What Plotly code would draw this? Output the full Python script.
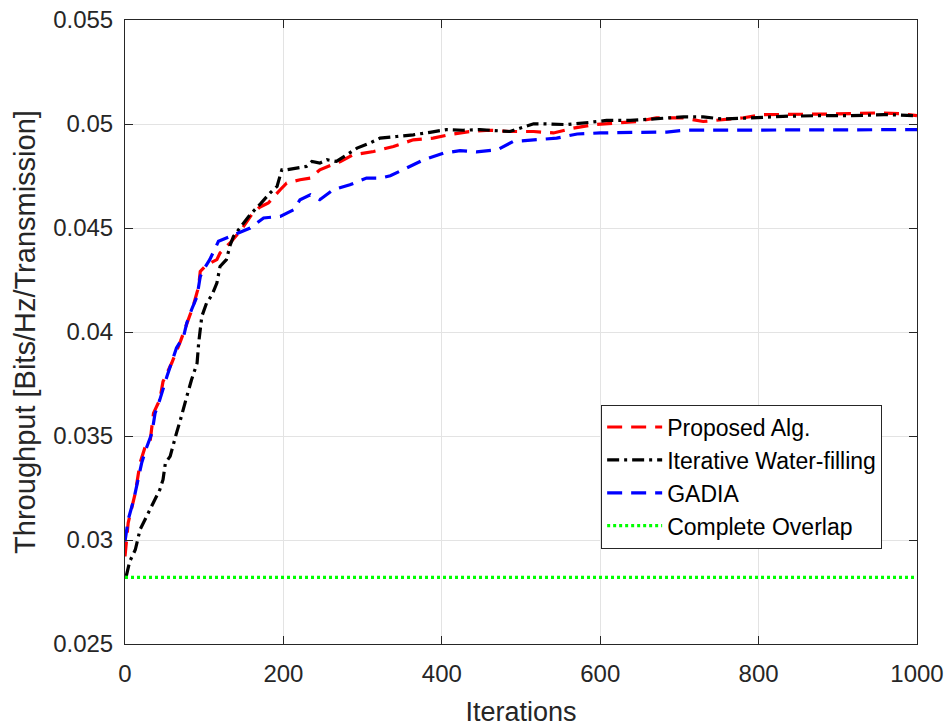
import plotly.graph_objects as go

# Throughput per iteration for each allocation scheme
proposed_x = [0, 4, 13, 19, 25, 32, 36, 44, 48, 59, 70, 78, 86, 93, 95, 103, 116, 120, 133, 147,
              160, 170, 181, 196, 204, 221, 234, 246, 272, 288, 314, 339, 364, 389, 410, 436, 461,
              486, 516, 541, 566, 592, 617, 646, 671, 705, 730, 755, 781, 806, 836, 865, 890, 916,
              949, 979, 1000]
proposed_y = [0.02921, 0.03082, 0.03226, 0.0337, 0.03442, 0.03482, 0.0361, 0.03675, 0.03762, 0.03851,
              0.03955, 0.04043, 0.04123, 0.04219, 0.04291, 0.04323, 0.04348, 0.0438, 0.0443, 0.04492,
              0.04565, 0.046, 0.0462, 0.04684, 0.04716, 0.04732, 0.0474, 0.0478, 0.0482, 0.04852,
              0.04868, 0.04892, 0.04924, 0.04932, 0.04949, 0.04964, 0.0497, 0.04964, 0.04964, 0.04957,
              0.0498, 0.04997, 0.05005, 0.05012, 0.05029, 0.05029, 0.05012, 0.0502, 0.0503, 0.05045,
              0.05045, 0.05045, 0.05048, 0.0505, 0.05053, 0.0505, 0.0504]

iwf_x = [0, 2, 6, 13, 19, 27, 36, 44, 48, 51, 57, 61, 65, 70, 74, 78, 84, 91, 93, 97, 103, 110, 116,
         120, 128, 133, 137, 147, 158, 171, 183, 192, 198, 204, 217, 229, 236, 246, 255, 267, 280,
         293, 309, 322, 343, 364, 385, 406, 427, 448, 486, 516, 537, 558, 587, 608, 638, 671, 705,
         730, 755, 789, 831, 874, 916, 958, 1000]
iwf_y = [0.0283, 0.02833, 0.02897, 0.02953, 0.0305, 0.03113, 0.03178, 0.03242, 0.0329, 0.0337,
         0.03402, 0.03466, 0.03514, 0.03578, 0.03642, 0.0369, 0.0377, 0.0385, 0.03947, 0.04075,
         0.04139, 0.04179, 0.04235, 0.04315, 0.04348, 0.0442, 0.0446, 0.0451, 0.04564, 0.04616,
         0.04668, 0.047, 0.0478, 0.0478, 0.04788, 0.04796, 0.0482, 0.04812, 0.04828, 0.0482,
         0.04852, 0.04884, 0.04908, 0.04932, 0.0494, 0.04948, 0.0496, 0.04973, 0.0497, 0.04973,
         0.04964, 0.05001, 0.05, 0.04997, 0.05008, 0.05017, 0.05017, 0.05024, 0.05034, 0.05034,
         0.05024, 0.05029, 0.05037, 0.0504, 0.0504, 0.05045, 0.0504]

gadia_x = [0, 4, 11, 17, 21, 27, 34, 38, 44, 53, 59, 65, 74, 78, 84, 91, 95, 99, 107, 118, 133, 143,
           158, 175, 196, 213, 221, 234, 246, 263, 284, 305, 322, 335, 356, 377, 402, 423, 444, 470,
           490, 516, 545, 571, 600, 646, 684, 705, 747, 789, 874, 1000]
gadia_y = [0.02993, 0.03097, 0.03194, 0.0329, 0.0337, 0.03442, 0.03514, 0.0361, 0.03675, 0.03787,
           0.03851, 0.03923, 0.03979, 0.04043, 0.04107, 0.04171, 0.04267, 0.04299, 0.04348, 0.04436,
           0.0446, 0.04476, 0.045, 0.04548, 0.04556, 0.04588, 0.04636, 0.0466, 0.04636, 0.04684,
           0.04708, 0.0474, 0.0474, 0.04751, 0.04788, 0.04828, 0.0486, 0.04872, 0.04866, 0.04876,
           0.04916, 0.04924, 0.04932, 0.04952, 0.04957, 0.0496, 0.04961, 0.0497, 0.0497, 0.04973,
           0.04973, 0.04973]

overlap_x = [0, 1000]
overlap_y = [0.0282, 0.0282]

x_ticks = [0, 200, 400, 600, 800, 1000]
y_ticks = [0.025, 0.03, 0.035, 0.04, 0.045, 0.05, 0.055]
y_ticktext = ["0.025", "0.03", "0.035", "0.04", "0.045", "0.05", "0.055"]

FONT = "Liberation Sans, Arial, Helvetica, sans-serif"
AXIS_COLOR = "#262626"

fig = go.Figure()
fig.add_trace(go.Scatter(x=proposed_x, y=proposed_y, mode="lines", name="Proposed Alg.",
                         line=dict(color="#ff0000", width=3.2, dash="15px,9px")))
fig.add_trace(go.Scatter(x=iwf_x, y=iwf_y, mode="lines", name="Iterative Water-filling",
                         line=dict(color="#000000", width=3.2, dash="12px,5px,3px,5px")))
fig.add_trace(go.Scatter(x=gadia_x, y=gadia_y, mode="lines", name="GADIA",
                         line=dict(color="#0000ff", width=3.2, dash="15px,9px")))
fig.add_trace(go.Scatter(x=overlap_x, y=overlap_y, mode="lines", name="Complete Overlap",
                         line=dict(color="#00ff00", width=3.2, dash="3px,3px")))

axis_common = dict(
    showline=True, linecolor=AXIS_COLOR, linewidth=1, mirror="ticks",
    ticks="inside", ticklen=8, tickcolor=AXIS_COLOR, tickwidth=1,
    showgrid=True, gridcolor="#e3e3e3", gridwidth=1, zeroline=False,
    tickfont=dict(family=FONT, size=24, color=AXIS_COLOR),
    automargin=False,
)

fig.update_layout(
    width=948, height=727,
    margin=dict(l=125, r=31, t=20, b=83, autoexpand=False),
    paper_bgcolor="white", plot_bgcolor="white",
    font=dict(family=FONT, color=AXIS_COLOR),
    xaxis=dict(range=[0, 1000], tickvals=x_ticks, ticklabelstandoff=8,
               title=dict(text="Iterations", font=dict(family=FONT, size=27, color=AXIS_COLOR),
                          standoff=22),
               **axis_common),
    yaxis=dict(range=[0.025, 0.055], tickvals=y_ticks, ticktext=y_ticktext,
               title=dict(text="Throughput [Bits/Hz/Transmission]",
                          font=dict(family=FONT, size=29, color=AXIS_COLOR), standoff=8),
               ticklabelstandoff=6,
               **axis_common),
    legend=dict(x=0.956, xanchor="right", y=0.153, yanchor="bottom",
                bgcolor="white", bordercolor=AXIS_COLOR, borderwidth=1,
                font=dict(family=FONT, size=23, color="#000000"),
                itemwidth=55, tracegroupgap=0),
    showlegend=True,
)

fig.write_html("out.html")
